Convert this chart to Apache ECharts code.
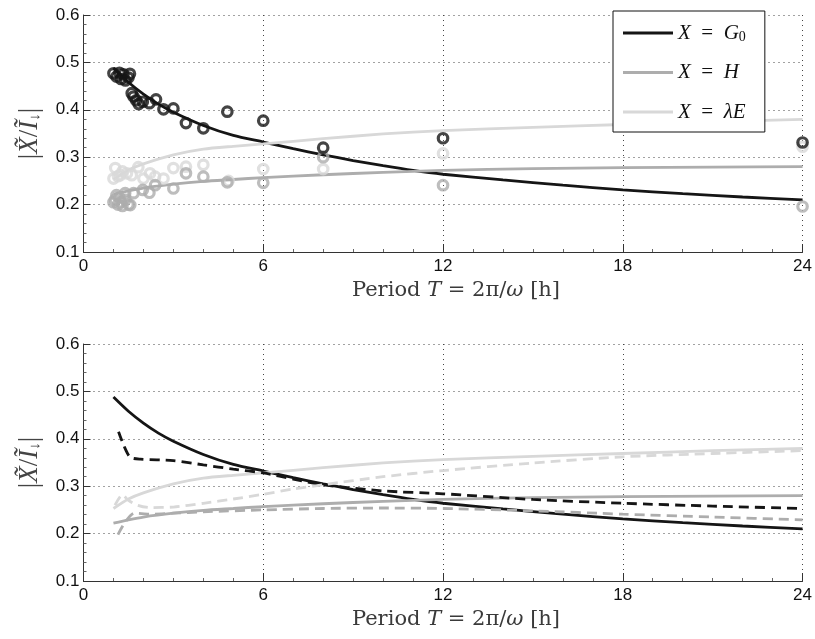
<!DOCTYPE html>
<html><head><meta charset="utf-8">
<script src="https://cdn.jsdelivr.net/npm/echarts@6/dist/echarts.min.js"></script>
<style>html,body{margin:0;padding:0;background:#fff}#c{width:815px;height:639px}</style>
</head><body><div id="c"></div>
<script>
// ---- data ----
const xTicks = [0, 6, 12, 18, 24];
const yTicks = [0.1, 0.2, 0.3, 0.4, 0.5, 0.6];

// model curves (solid)
const g0X = [1, 1.5, 2, 2.5, 3, 4, 5, 6, 7, 8, 9, 10, 11, 12, 14, 16, 18, 20, 22, 24];
const g0Y = [0.488, 0.458, 0.433, 0.412, 0.395, 0.367, 0.346, 0.332, 0.318, 0.305, 0.293, 0.282, 0.272, 0.264, 0.252, 0.241, 0.231, 0.223, 0.216, 0.210];
const hX = [1, 1.5, 2, 3, 4, 5, 6, 8, 10, 12, 15, 18, 21, 24];
const hY = [0.222, 0.229, 0.235, 0.243, 0.249, 0.253, 0.257, 0.263, 0.268, 0.272, 0.276, 0.278, 0.279, 0.280];
const leX = [1, 1.5, 2, 3, 4, 5, 6, 8, 10, 12, 15, 18, 21, 24];
const leY = [0.253, 0.273, 0.286, 0.305, 0.317, 0.323, 0.328, 0.339, 0.349, 0.356, 0.363, 0.369, 0.375, 0.380];

// alternative curves (dashed, lower panel)
const g0dX = [1.17, 1.35, 1.56, 1.9, 3, 4, 5, 6, 7, 8, 10, 12, 15, 18, 21, 24];
const g0dY = [0.415, 0.385, 0.361, 0.357, 0.354, 0.345, 0.336, 0.328, 0.315, 0.303, 0.290, 0.284, 0.272, 0.264, 0.258, 0.253];
const hdX = [1.15, 1.4, 1.7, 2.2, 3, 4, 6, 8, 10, 12, 15, 18, 21, 24];
const hdY = [0.198, 0.225, 0.243, 0.241, 0.243, 0.246, 0.250, 0.253, 0.254, 0.253, 0.248, 0.241, 0.235, 0.229];
const ledX = [1.05, 1.3, 1.5, 1.8, 2.2, 3, 4, 5, 6, 7, 8, 10, 12, 15, 18, 21, 24];
const ledY = [0.260, 0.282, 0.270, 0.260, 0.255, 0.256, 0.264, 0.273, 0.283, 0.294, 0.303, 0.320, 0.333, 0.349, 0.362, 0.369, 0.375];

// measured points (upper panel)
const g0pX = [1.0, 1.1, 1.2, 1.25, 1.33, 1.4, 1.5, 1.55, 1.61, 1.67, 1.76, 1.84, 1.98, 2.2, 2.42, 2.67, 3.0, 3.42, 4.0, 4.8, 6.0, 8.0, 12.0, 24.0];
const g0pY = [0.477, 0.470, 0.478, 0.465, 0.475, 0.462, 0.468, 0.476, 0.435, 0.428, 0.420, 0.412, 0.417, 0.414, 0.422, 0.401, 0.403, 0.372, 0.361, 0.396, 0.377, 0.320, 0.340, 0.331];
const hpX = [1.0, 1.05, 1.1, 1.15, 1.2, 1.25, 1.3, 1.39, 1.4, 1.5, 1.56, 1.67, 1.98, 2.2, 2.39, 3.0, 3.42, 4.0, 4.8, 6.0, 8.0, 12.0, 24.0];
const hpY = [0.205, 0.210, 0.220, 0.200, 0.215, 0.205, 0.197, 0.224, 0.210, 0.200, 0.199, 0.224, 0.231, 0.225, 0.241, 0.234, 0.266, 0.259, 0.247, 0.246, 0.300, 0.241, 0.196];
const lepX = [1.0, 1.06, 1.15, 1.22, 1.3, 1.45, 1.61, 1.83, 2.0, 2.22, 2.39, 2.67, 3.0, 3.42, 4.0, 4.84, 6.0, 8.0, 12.0, 24.0];
const lepY = [0.255, 0.277, 0.260, 0.262, 0.270, 0.266, 0.262, 0.279, 0.255, 0.266, 0.259, 0.255, 0.277, 0.280, 0.284, 0.250, 0.275, 0.275, 0.308, 0.322];

const seriesNames = ['G0', 'H', 'lE'];
// ---- styling ----
const C_BLACK = '#151515', C_H = '#adadad', C_LE = '#d8d8d8';
const SERIF = 'DejaVu Serif, Liberation Serif, serif';
const LSERIF = 'Liberation Serif, DejaVu Serif, serif';
const SANS = 'Liberation Sans, Arial, sans-serif';

const zip = (xs, ys) => xs.map((x, i) => [x, ys[i]]);

const chart = echarts.init(document.getElementById('c'), null, {renderer: 'canvas'});

function xAxis(gi) {
  return {
    type: 'value', gridIndex: gi, min: xTicks[0], max: xTicks[xTicks.length - 1], interval: 6,
    axisLine: {show: true, onZero: false, lineStyle: {color: '#333', width: 1}},
    axisTick: {show: true, inside: true, length: 8, lineStyle: {color: '#333'}},
    minorTick: {show: true, splitNumber: 6, length: 3, lineStyle: {color: '#666'}},
    axisLabel: {color: '#111', fontFamily: SANS, fontSize: 17, margin: 6},
    splitLine: {show: true, lineStyle: {type: [1, 4], color: '#444', width: 1}},
    name: '{r|Period }{i|T}{r| = 2π/}{i|ω}{r| [h]}',
    nameLocation: 'middle', nameGap: 28,
    nameTextStyle: {
      color: '#3a3a3a', fontFamily: SERIF, fontSize: 21, padding: [0, 0, 0, 26],
      rich: {r: {fontFamily: SERIF, fontSize: 21, color: '#3a3a3a'},
             i: {fontFamily: SERIF, fontSize: 21, fontStyle: 'italic', color: '#3a3a3a'}}
    }
  };
}
function yAxis(gi) {
  return {
    type: 'value', gridIndex: gi, min: yTicks[0], max: yTicks[yTicks.length - 1], interval: 0.1,
    axisLine: {show: true, lineStyle: {color: '#333', width: 1}},
    axisTick: {show: true, inside: true, length: 7, lineStyle: {color: '#333'}},
    minorTick: {show: true, splitNumber: 5, length: 3, lineStyle: {color: '#666'}},
    axisLabel: {color: '#111', fontFamily: SANS, fontSize: 17, margin: 4,
                formatter: v => v.toFixed(1)},
    splitLine: {show: true, lineStyle: {type: [1, 4], color: '#444', width: 1}},
    name: '|{i|X̃}/{i|Ĩ}{s|↓}|',
    nameLocation: 'middle', nameGap: 40, nameRotate: 90,
    nameTextStyle: {
      color: '#444', fontFamily: LSERIF, fontSize: 27,
      rich: {i: {fontFamily: LSERIF, fontSize: 27, fontStyle: 'italic', color: '#444'},
             s: {fontFamily: LSERIF, fontSize: 15, color: '#444', padding: [11, 0, 0, 0]}}
    }
  };
}

function line(name, xs, ys, color, gi, dashed) {
  return {
    type: 'line', name: name, xAxisIndex: gi, yAxisIndex: gi, data: zip(xs, ys),
    showSymbol: false, symbol: 'none', smooth: 0.25, z: 2,
    lineStyle: {color: color, width: 2.8, type: dashed ? [10, 6] : 'solid'},
    itemStyle: {color: color}, emphasis: {disabled: true}
  };
}
function pts(xs, ys, color) {
  return {
    type: 'scatter', name: 'p', xAxisIndex: 0, yAxisIndex: 0, data: zip(xs, ys),
    symbol: 'circle', symbolSize: 9.5, z: 3,
    itemStyle: {color: 'rgba(0,0,0,0)', borderColor: color, borderWidth: 3.2},
    emphasis: {disabled: true}
  };
}

const legendLabels = {
  G0: '{i|X}\u2002=\u2002{i|G}{s|0}',
  H: '{i|X}\u2002=\u2002{i|H}',
  lE: '{i|X}\u2002=\u2002{r|λ}{i|E}'
};

const option = {
  backgroundColor: '#fff',
  animation: false,
  grid: [
    {left: 83.5, top: 15, width: 719.5, height: 237},
    {left: 83.5, top: 344, width: 719.5, height: 237}
  ],
  xAxis: [xAxis(0), xAxis(1)],
  yAxis: [yAxis(0), yAxis(1)],
  legend: {
    data: seriesNames.map(n => ({name: n, icon: 'rect'})), orient: 'vertical', left: 613, top: 11,
    backgroundColor: '#fff', borderColor: '#111', borderWidth: 1,
    padding: [11, 19, 9, 10], itemGap: 17.5, itemWidth: 50, itemHeight: 3,
    selectedMode: false,
    formatter: n => legendLabels[n],
    textStyle: {
      color: '#111', fontFamily: LSERIF, fontSize: 21, lineHeight: 22,
      rich: {i: {fontFamily: LSERIF, fontSize: 21, fontStyle: 'italic', color: '#111'},
             r: {fontFamily: LSERIF, fontSize: 21, fontStyle: 'italic', color: '#111'},
             s: {fontFamily: LSERIF, fontSize: 14, color: '#111', padding: [8, 0, 0, 0]}}
    }
  },
  series: [
    line('G0', g0X, g0Y, C_BLACK, 0, false),
    line('H', hX, hY, C_H, 0, false),
    line('lE', leX, leY, C_LE, 0, false),
    pts(lepX, lepY, C_LE),
    pts(hpX, hpY, C_H),
    pts(g0pX, g0pY, C_BLACK),
    line('G0b', g0X, g0Y, C_BLACK, 1, false),
    line('Hb', hX, hY, C_H, 1, false),
    line('lEb', leX, leY, C_LE, 1, false),
    line('G0d', g0dX, g0dY, C_BLACK, 1, true),
    line('Hd', hdX, hdY, C_H, 1, true),
    line('lEd', ledX, ledY, C_LE, 1, true)
  ]
};
chart.setOption(option);
</script></body></html>
